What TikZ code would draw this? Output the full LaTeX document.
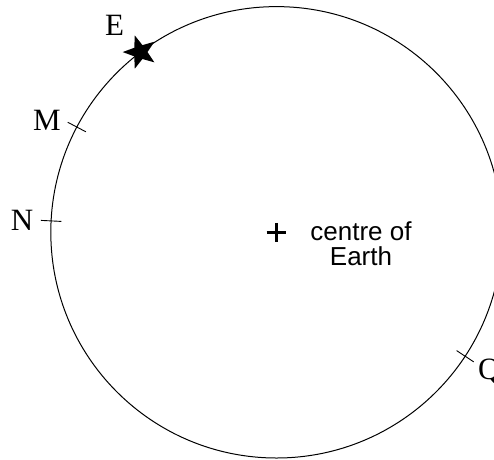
\documentclass[tikz,border=0pt]{standalone}
\usepackage{fontspec}
\setmainfont{Liberation Serif}
\newfontfamily\labsans{Liberation Sans}
\usetikzlibrary{shapes.geometric,calc}
\tikzset{
  lab/.style={font=\fontsize{31pt}{31pt}\selectfont, inner sep=0pt},
  tick/.style={line width=0.9pt},
  earth/.style={line width=1pt},
}
\begin{document}
\begin{tikzpicture}[x=1pt,y=-1pt]
\useasboundingbox (0,0) rectangle (494,459);
\coordinate (C) at (276.5,232.3);
\draw[earth] (C) circle (225.7pt);
% points on the circle
\coordinate (pN) at ($(C)+(182.9:225.7)$);
\coordinate (pM) at ($(C)+(207.8:225.7)$);
\coordinate (pQ) at ($(C)+(33.3:225.7)$);
% ticks
\foreach \p in {pN,pM,pQ}{
  \draw[tick] ($(C)!215.5pt!(\p)$) -- ($(C)!236pt!(\p)$);
}
% star at E
\node[star, star points=5, star point ratio=2.4, fill=black, draw=none,
      minimum size=35pt, inner sep=0pt, shape border rotate=90] (star) at ($(C)+(232.9:226)$) {};
% centre cross
\draw[line width=3pt] (266.5,232.4) -- (286.3,232.4);
\draw[line width=3pt] (276.4,222.8) -- (276.4,242.2);
% labels
\node[lab, anchor=base] (E) at (114.5,35) {E};
\node[lab, anchor=base] (M) at (47,130.5) {M};
\node[lab, anchor=base] (N) at (22,230.5) {N};
\node[lab, anchor=base west] (Q) at (478,379) {Q};
\node[font=\labsans\fontsize{26pt}{25pt}\selectfont, align=center, inner sep=0pt, anchor=north] (txt) at (361,221) {centre of\\Earth};
\end{tikzpicture}
\end{document}
